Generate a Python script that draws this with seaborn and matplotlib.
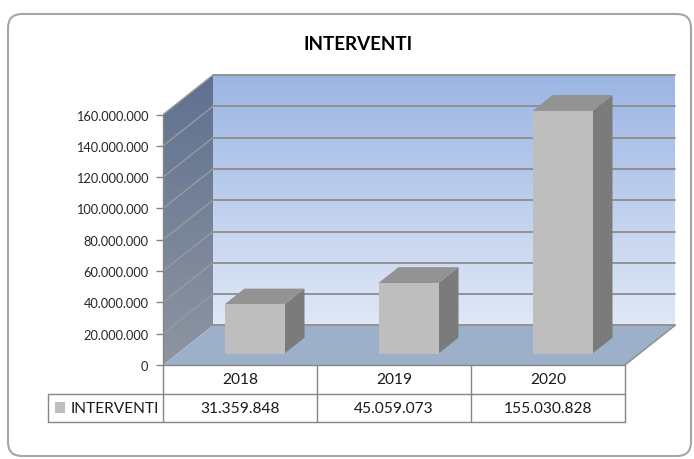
import numpy as np
import pandas as pd
import matplotlib
matplotlib.use('Agg')
import matplotlib.pyplot as plt
import seaborn as sns
from matplotlib.patches import Polygon, Rectangle, FancyBboxPatch
from matplotlib.transforms import Affine2D
from matplotlib.colors import LinearSegmentedColormap

# dati
years = ['2018', '2019', '2020']
interventi = [31359848, 45059073, 155030828]
serie = 'INTERVENTI'
yticks = [0, 20000000, 40000000, 60000000, 80000000,
          100000000, 120000000, 140000000, 160000000]


def fmt_it(v):
    return '{:,}'.format(v).replace(',', '.')


sns.set_style('white')
plt.rcParams['font.family'] = ['Lato', 'DejaVu Sans']

df = pd.DataFrame({'Anno': years, 'Valore': interventi})

fig = plt.figure(figsize=(6.94, 4.60), dpi=100)

# cornice arrotondata + titolo
bg = fig.add_axes([0, 0, 1, 1])
bg.set_xlim(0, 694)
bg.set_ylim(460, 0)
bg.axis('off')
bg.add_patch(FancyBboxPatch((8, 15), 683, 442, boxstyle='round,pad=0,rounding_size=14',
                            fc='white', ec='#a6a6a6', lw=1.5))
fig.text(358 / 694, 1 - 44 / 460, 'INTERVENTI', ha='center', va='center',
         fontsize=13.5, fontweight='bold', color='black')

ax = fig.add_axes([163 / 694, 94 / 460, 514 / 694, 290 / 460])
ax.patch.set_alpha(0)

ymax = yticks[-1]
x0, x1 = -0.5, len(years) - 0.5
dx, dy = 50 / 154, 25.3e6          # profondita' del grafico 3D
ox, oy = 0.29 * dx, 0.29 * dy      # faccia frontale delle barre
bx, by = 0.4 * dx, 0.4 * dy        # spessore barre
grid_c = '#8c8c8c'

grad = np.linspace(0, 1, 256).reshape(-1, 1)

# parete di fondo
cmap_back = LinearSegmentedColormap.from_list('back', ['#e0e8f6', '#9bb5e3'])
ax.imshow(grad, extent=(x0 + dx, x1 + dx, dy, ymax + dy), origin='lower',
          cmap=cmap_back, aspect='auto', zorder=0)

# parete laterale
side = Polygon([(x0, 0), (x0, ymax), (x0 + dx, ymax + dy), (x0 + dx, dy)],
               closed=True, fc='none', ec='none')
ax.add_patch(side)
cmap_side = LinearSegmentedColormap.from_list('side', ['#8e95a2', '#5f7190'])
im = ax.imshow(grad, extent=(x0, x0 + dx, 0, ymax + dy), origin='lower',
               cmap=cmap_side, aspect='auto', zorder=0)
im.set_clip_path(side)

# pavimento
ax.add_patch(Polygon([(x0, 0), (x1, 0), (x1 + dx, dy), (x0 + dx, dy)], closed=True,
                     fc='#9cb0ca', ec='none', zorder=1))
ax.plot([x1, x1 + dx], [0, dy], color=grid_c, lw=1, zorder=1.2, clip_on=False)

# griglia
for v in yticks:
    ax.plot([x0 + dx, x1 + dx], [v + dy, v + dy], color=grid_c, lw=1.3, zorder=1.1, clip_on=False)
    if v > 0:
        ax.plot([x0, x0 + dx], [v, v + dy], color='#9a9a9a', lw=1, zorder=1.1)

# barre
sns.barplot(data=df, x='Anno', y='Valore', color='#bebebe', saturation=1,
            width=60 / 154, ax=ax, zorder=3)
bars = ax.containers[-1]
shift = Affine2D().translate(ox, oy) + ax.transData
for p in bars:
    p.set_transform(shift)
    p.set_linewidth(0)
    xl = p.get_x() + ox
    xr = xl + p.get_width()
    top = p.get_height() + oy
    ax.add_patch(Polygon([(xr, oy), (xr, top), (xr + bx, top + by), (xr + bx, oy + by)],
                         closed=True, fc='#7b7b7b', ec='none', zorder=2.9))
    ax.add_patch(Polygon([(xl, top), (xr, top), (xr + bx, top + by), (xl + bx, top + by)],
                         closed=True, fc='#939393', ec='none', zorder=2.9))

ax.set_xlim(x0, x0 + 514 / 154)
ax.set_ylim(0, ymax + dy)
ax.set_xlabel('')
ax.set_ylabel('')
ax.set_xticks([])
ax.set_yticks(yticks)
ax.set_yticklabels([fmt_it(v) for v in yticks])
ax.tick_params(axis='y', left=True, length=5, width=1, color='#868686',
               labelsize=9.2, labelcolor='#262626', pad=5.5)
for s in ['top', 'right', 'bottom']:
    ax.spines[s].set_visible(False)
ax.spines['left'].set_bounds(0, ymax)
ax.spines['left'].set_color('#868686')
ax.spines['left'].set_linewidth(1)

# tabella dati
row_h = 28.5 * ymax / 250
leg_x = x0 - 115 / 154
tc = '#868686'
kw = dict(color=tc, lw=1, clip_on=False, zorder=4)
ax.plot([x0, x1], [0, 0], **kw)
ax.plot([leg_x, x1], [-row_h, -row_h], **kw)
ax.plot([leg_x, x1], [-2 * row_h, -2 * row_h], **kw)
ax.plot([leg_x, leg_x], [-row_h, -2 * row_h], **kw)
for xb in np.arange(len(years) + 1) - 0.5:
    ax.plot([xb, xb], [0, -2 * row_h], **kw)
for i, (yr, v) in enumerate(zip(years, interventi)):
    ax.text(i, -0.5 * row_h, yr, ha='center', va='center', fontsize=11.2, color='#1a1a1a')
    ax.text(i, -1.5 * row_h, fmt_it(v), ha='center', va='center', fontsize=11.2, color='#1a1a1a')
ax.add_patch(Rectangle((x0 - 108 / 154, -1.5 * row_h - 5.5 * ymax / 250), 10 / 154, 11 * ymax / 250,
                       fc='#bebebe', ec='none', clip_on=False))
ax.text(x0 - 92 / 154, -1.5 * row_h, serie, ha='left', va='center', fontsize=11.2, color='#1a1a1a')

fig.savefig('out.png', dpi=100)
